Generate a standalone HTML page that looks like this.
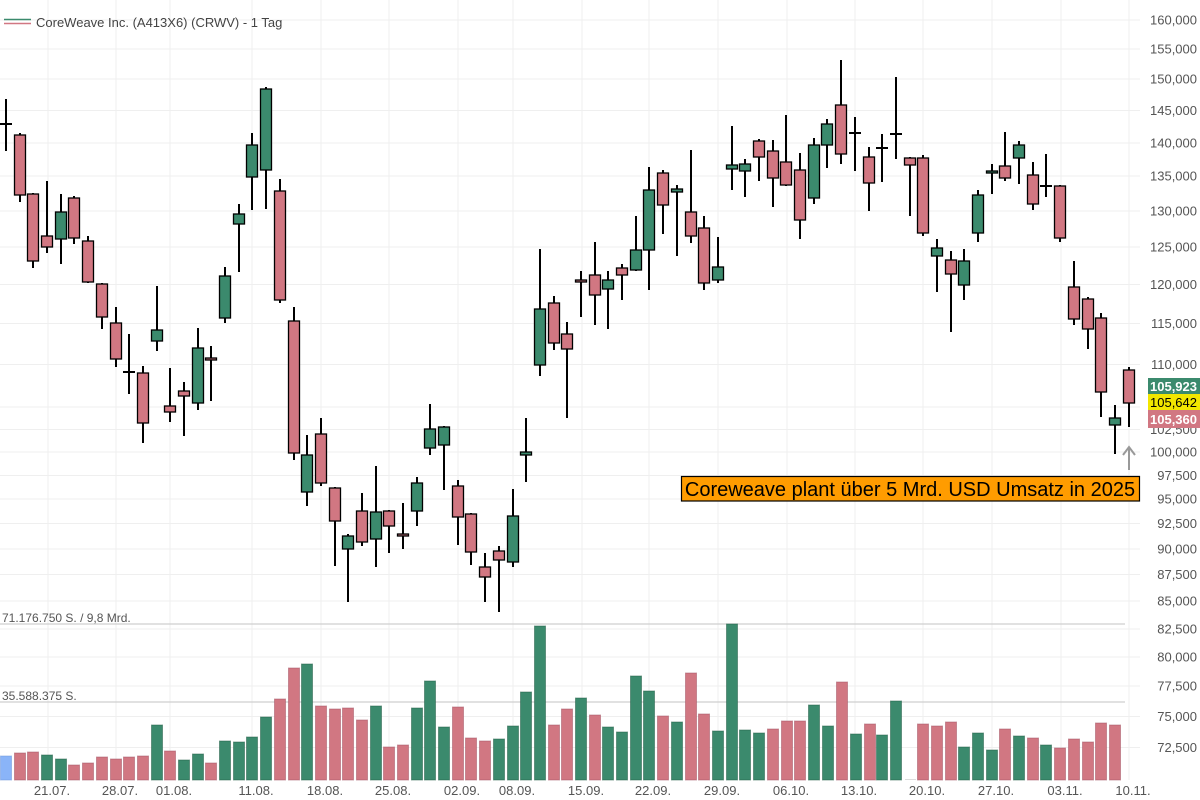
<!DOCTYPE html>
<html><head><meta charset="utf-8"><style>
html,body{margin:0;padding:0;background:#fff;width:1200px;height:800px;overflow:hidden}
svg{display:block;font-family:"Liberation Sans",sans-serif}
</style></head><body>
<svg width="1200" height="800" viewBox="0 0 1200 800" xmlns="http://www.w3.org/2000/svg">
<g stroke="#efefef" stroke-width="1">
<line x1="0" y1="20" x2="1140" y2="20"/><line x1="0" y1="49" x2="1140" y2="49"/><line x1="0" y1="79" x2="1140" y2="79"/><line x1="0" y1="110.5" x2="1140" y2="110.5"/><line x1="0" y1="143" x2="1140" y2="143"/><line x1="0" y1="176" x2="1140" y2="176"/><line x1="0" y1="211" x2="1140" y2="211"/><line x1="0" y1="247" x2="1140" y2="247"/><line x1="0" y1="284.5" x2="1140" y2="284.5"/><line x1="0" y1="323.5" x2="1140" y2="323.5"/><line x1="0" y1="364.5" x2="1140" y2="364.5"/><line x1="0" y1="407" x2="1140" y2="407"/><line x1="0" y1="429.5" x2="1140" y2="429.5"/><line x1="0" y1="452" x2="1140" y2="452"/><line x1="0" y1="475.5" x2="1140" y2="475.5"/><line x1="0" y1="499" x2="1140" y2="499"/><line x1="0" y1="523.5" x2="1140" y2="523.5"/><line x1="0" y1="549" x2="1140" y2="549"/><line x1="0" y1="574.5" x2="1140" y2="574.5"/><line x1="0" y1="601" x2="1140" y2="601"/><line x1="0" y1="629" x2="1140" y2="629"/><line x1="0" y1="657" x2="1140" y2="657"/><line x1="0" y1="686" x2="1140" y2="686"/><line x1="0" y1="716.5" x2="1140" y2="716.5"/><line x1="0" y1="747.5" x2="1140" y2="747.5"/>
<line x1="48" y1="0" x2="48" y2="780"/><line x1="116" y1="0" x2="116" y2="780"/><line x1="170" y1="0" x2="170" y2="780"/><line x1="252" y1="0" x2="252" y2="780"/><line x1="321" y1="0" x2="321" y2="780"/><line x1="389" y1="0" x2="389" y2="780"/><line x1="458" y1="0" x2="458" y2="780"/><line x1="513" y1="0" x2="513" y2="780"/><line x1="582" y1="0" x2="582" y2="780"/><line x1="649" y1="0" x2="649" y2="780"/><line x1="718" y1="0" x2="718" y2="780"/><line x1="787" y1="0" x2="787" y2="780"/><line x1="855" y1="0" x2="855" y2="780"/><line x1="923" y1="0" x2="923" y2="780"/><line x1="992" y1="0" x2="992" y2="780"/><line x1="1061" y1="0" x2="1061" y2="780"/><line x1="1129" y1="0" x2="1129" y2="780"/>
</g>
<g stroke="#cfcfcf" stroke-width="1.2"><line x1="0" y1="624" x2="1125" y2="624"/><line x1="0" y1="702" x2="1125" y2="702"/></g>
<g font-size="12" fill="#555"><text x="2" y="622">71.176.750 S. / 9,8 Mrd.</text><text x="2" y="700">35.588.375 S.</text></g>
<!-- volume -->
<g stroke-width="1" stroke-opacity="0.5">
<rect x="0.5" y="756" width="11" height="24" fill="#8ab4f8" stroke="#6a94d8"/>
<g fill="#d17782" stroke="#a05060">
<rect x="14.5" y="753" width="11" height="27"/><rect x="27.5" y="752" width="11" height="28"/><rect x="68.5" y="765" width="11" height="15"/><rect x="82.5" y="763" width="11" height="17"/><rect x="96.5" y="757" width="11" height="23"/><rect x="110.5" y="759" width="11" height="21"/><rect x="123.5" y="757" width="11" height="23"/><rect x="137.5" y="756" width="11" height="24"/><rect x="164.5" y="751" width="11" height="29"/><rect x="205.5" y="763" width="11" height="17"/><rect x="274.5" y="699" width="11" height="81"/><rect x="288.5" y="668" width="11" height="112"/><rect x="315.5" y="706" width="11" height="74"/><rect x="329.5" y="709" width="11" height="71"/><rect x="342.5" y="708" width="11" height="72"/><rect x="356.5" y="720" width="11" height="60"/><rect x="383.5" y="747" width="11" height="33"/><rect x="397.5" y="745" width="11" height="35"/><rect x="452.5" y="707" width="11" height="73"/><rect x="465.5" y="738" width="11" height="42"/><rect x="479.5" y="741" width="11" height="39"/><rect x="548.5" y="725" width="11" height="55"/><rect x="561.5" y="709" width="11" height="71"/><rect x="589.5" y="715" width="11" height="65"/><rect x="657.5" y="716" width="11" height="64"/><rect x="685.5" y="673" width="11" height="107"/><rect x="698.5" y="714" width="11" height="66"/><rect x="767.5" y="729" width="11" height="51"/><rect x="781.5" y="721" width="11" height="59"/><rect x="794.5" y="721" width="11" height="59"/><rect x="836.5" y="682" width="11" height="98"/><rect x="864.5" y="724" width="11" height="56"/><rect x="917.5" y="724" width="11" height="56"/><rect x="931.5" y="726" width="11" height="54"/><rect x="945.5" y="722" width="11" height="58"/><rect x="999.5" y="729" width="11" height="51"/><rect x="1027.5" y="738" width="11" height="42"/><rect x="1054.5" y="748" width="11" height="32"/><rect x="1068.5" y="739" width="11" height="41"/><rect x="1082.5" y="742" width="11" height="38"/><rect x="1095.5" y="723" width="11" height="57"/><rect x="1109.5" y="725" width="11" height="55"/>
</g>
<g fill="#3b8a6d" stroke="#1f5a44">
<rect x="41.5" y="755" width="11" height="25"/><rect x="55.5" y="759" width="11" height="21"/><rect x="151.5" y="725" width="11" height="55"/><rect x="178.5" y="760" width="11" height="20"/><rect x="192.5" y="754" width="11" height="26"/><rect x="219.5" y="741" width="11" height="39"/><rect x="233.5" y="742" width="11" height="38"/><rect x="246.5" y="737" width="11" height="43"/><rect x="260.5" y="717" width="11" height="63"/><rect x="301.5" y="664" width="11" height="116"/><rect x="370.5" y="706" width="11" height="74"/><rect x="411.5" y="708" width="11" height="72"/><rect x="424.5" y="681" width="11" height="99"/><rect x="438.5" y="727" width="11" height="53"/><rect x="493.5" y="739" width="11" height="41"/><rect x="507.5" y="726" width="11" height="54"/><rect x="520.5" y="692" width="11" height="88"/><rect x="534.5" y="626" width="11" height="154"/><rect x="575.5" y="698" width="11" height="82"/><rect x="602.5" y="727" width="11" height="53"/><rect x="616.5" y="732" width="11" height="48"/><rect x="630.5" y="676" width="11" height="104"/><rect x="643.5" y="691" width="11" height="89"/><rect x="671.5" y="722" width="11" height="58"/><rect x="712.5" y="731" width="11" height="49"/><rect x="726.5" y="624" width="11" height="156"/><rect x="739.5" y="730" width="11" height="50"/><rect x="753.5" y="733" width="11" height="47"/><rect x="808.5" y="705" width="11" height="75"/><rect x="822.5" y="726" width="11" height="54"/><rect x="850.5" y="734" width="11" height="46"/><rect x="876.5" y="735" width="11" height="45"/><rect x="890.5" y="701" width="11" height="79"/><rect x="958.5" y="747" width="11" height="33"/><rect x="972.5" y="733" width="11" height="47"/><rect x="986.5" y="750" width="11" height="30"/><rect x="1013.5" y="736" width="11" height="44"/><rect x="1040.5" y="745" width="11" height="35"/>
</g>
<line x1="905" y1="779.5" x2="916" y2="779.5" stroke="#bbb"/>
</g>
<!-- wicks -->
<g stroke="#000" stroke-width="2">
<line x1="6" y1="99" x2="6" y2="151"/><line x1="20" y1="133" x2="20" y2="202"/><line x1="33" y1="193" x2="33" y2="268"/><line x1="47" y1="181" x2="47" y2="253"/><line x1="61" y1="194" x2="61" y2="264"/><line x1="74" y1="196" x2="74" y2="244"/><line x1="88" y1="236" x2="88" y2="283"/><line x1="102" y1="283" x2="102" y2="329"/><line x1="116" y1="307" x2="116" y2="367"/><line x1="129" y1="334" x2="129" y2="394"/><line x1="143" y1="366" x2="143" y2="443"/><line x1="157" y1="286" x2="157" y2="351"/><line x1="170" y1="368" x2="170" y2="422"/><line x1="184" y1="382" x2="184" y2="436"/><line x1="198" y1="328" x2="198" y2="410"/><line x1="211" y1="346" x2="211" y2="401"/><line x1="225" y1="267" x2="225" y2="323"/><line x1="239" y1="204" x2="239" y2="272"/><line x1="252" y1="133" x2="252" y2="210"/><line x1="266" y1="87" x2="266" y2="209"/><line x1="280" y1="179" x2="280" y2="303"/><line x1="294" y1="307" x2="294" y2="460"/><line x1="307" y1="435" x2="307" y2="506"/><line x1="321" y1="418" x2="321" y2="486"/><line x1="335" y1="487" x2="335" y2="566"/><line x1="348" y1="534" x2="348" y2="602"/><line x1="362" y1="493" x2="362" y2="546"/><line x1="376" y1="466" x2="376" y2="567"/><line x1="389" y1="510" x2="389" y2="553"/><line x1="403" y1="503" x2="403" y2="549"/><line x1="417" y1="477" x2="417" y2="526"/><line x1="430" y1="404" x2="430" y2="455"/><line x1="444" y1="426" x2="444" y2="490"/><line x1="458" y1="480" x2="458" y2="545"/><line x1="471" y1="513" x2="471" y2="565"/><line x1="485" y1="553" x2="485" y2="602"/><line x1="499" y1="546" x2="499" y2="612"/><line x1="513" y1="489" x2="513" y2="567"/><line x1="526" y1="418" x2="526" y2="482"/><line x1="540" y1="249" x2="540" y2="376"/><line x1="554" y1="296" x2="554" y2="350"/><line x1="567" y1="322" x2="567" y2="418"/><line x1="581" y1="271" x2="581" y2="317"/><line x1="595" y1="242" x2="595" y2="325"/><line x1="608" y1="271" x2="608" y2="329"/><line x1="622" y1="264" x2="622" y2="300"/><line x1="636" y1="216" x2="636" y2="271"/><line x1="649" y1="167" x2="649" y2="290"/><line x1="663" y1="170" x2="663" y2="234"/><line x1="677" y1="185" x2="677" y2="256"/><line x1="691" y1="150" x2="691" y2="243"/><line x1="704" y1="216" x2="704" y2="290"/><line x1="718" y1="237" x2="718" y2="283"/><line x1="732" y1="126" x2="732" y2="190"/><line x1="745" y1="159" x2="745" y2="197"/><line x1="759" y1="139" x2="759" y2="181"/><line x1="773" y1="140" x2="773" y2="207"/><line x1="786" y1="115" x2="786" y2="186"/><line x1="800" y1="153" x2="800" y2="239"/><line x1="814" y1="138" x2="814" y2="204"/><line x1="827" y1="119" x2="827" y2="168"/><line x1="841" y1="60" x2="841" y2="164"/><line x1="855" y1="117" x2="855" y2="171"/><line x1="869" y1="147" x2="869" y2="211"/><line x1="882" y1="134" x2="882" y2="182"/><line x1="896" y1="77" x2="896" y2="159"/><line x1="910" y1="157" x2="910" y2="216"/><line x1="923" y1="155" x2="923" y2="236"/><line x1="937" y1="239" x2="937" y2="292"/><line x1="951" y1="251" x2="951" y2="332"/><line x1="964" y1="249" x2="964" y2="300"/><line x1="978" y1="190" x2="978" y2="242"/><line x1="992" y1="164" x2="992" y2="194"/><line x1="1005" y1="132" x2="1005" y2="181"/><line x1="1019" y1="141" x2="1019" y2="184"/><line x1="1033" y1="162" x2="1033" y2="210"/><line x1="1046" y1="154" x2="1046" y2="197"/><line x1="1060" y1="185" x2="1060" y2="242"/><line x1="1074" y1="261" x2="1074" y2="325"/><line x1="1088" y1="297" x2="1088" y2="349"/><line x1="1101" y1="313" x2="1101" y2="417"/><line x1="1115" y1="405" x2="1115" y2="454"/><line x1="1129" y1="367" x2="1129" y2="427"/>
<line x1="0" y1="124" x2="12" y2="124"/><line x1="123" y1="372" x2="135" y2="372"/><line x1="849" y1="133" x2="861" y2="133"/><line x1="876" y1="148" x2="888" y2="148"/><line x1="890" y1="134" x2="902" y2="134"/><line x1="1040" y1="186" x2="1052" y2="186"/>
</g>
<!-- bodies -->
<g stroke="#000" stroke-width="1.3" fill="#d17782">
<rect x="14.5" y="135" width="11" height="60"/><rect x="27.5" y="194" width="11" height="67"/><rect x="41.5" y="236" width="11" height="11"/><rect x="68.5" y="198" width="11" height="40"/><rect x="82.5" y="241" width="11" height="41"/><rect x="96.5" y="284" width="11" height="33"/><rect x="110.5" y="323" width="11" height="36"/><rect x="137.5" y="373" width="11" height="50"/><rect x="164.5" y="406" width="11" height="6"/><rect x="178.5" y="391" width="11" height="5"/><rect x="205.5" y="358" width="11" height="2"/><rect x="274.5" y="191" width="11" height="109"/><rect x="288.5" y="321" width="11" height="132"/><rect x="315.5" y="434" width="11" height="49"/><rect x="329.5" y="488" width="11" height="33"/><rect x="356.5" y="511" width="11" height="31"/><rect x="383.5" y="511" width="11" height="15"/><rect x="397.5" y="534" width="11" height="2"/><rect x="452.5" y="486" width="11" height="31"/><rect x="465.5" y="514" width="11" height="38"/><rect x="479.5" y="567" width="11" height="10"/><rect x="493.5" y="551" width="11" height="9"/><rect x="548.5" y="303" width="11" height="40"/><rect x="561.5" y="334" width="11" height="15"/><rect x="575.5" y="280" width="11" height="2"/><rect x="589.5" y="275" width="11" height="20"/><rect x="616.5" y="268" width="11" height="7"/><rect x="657.5" y="173" width="11" height="32"/><rect x="685.5" y="212" width="11" height="24"/><rect x="698.5" y="228" width="11" height="55"/><rect x="753.5" y="141" width="11" height="16"/><rect x="767.5" y="151" width="11" height="27"/><rect x="780.5" y="162" width="11" height="23"/><rect x="794.5" y="170" width="11" height="50"/><rect x="835.5" y="105" width="11" height="49"/><rect x="863.5" y="157" width="11" height="26"/><rect x="904.5" y="158" width="11" height="7"/><rect x="917.5" y="158" width="11" height="75"/><rect x="945.5" y="260" width="11" height="14"/><rect x="999.5" y="166" width="11" height="12"/><rect x="1027.5" y="175" width="11" height="29"/><rect x="1054.5" y="186" width="11" height="52"/><rect x="1068.5" y="287" width="11" height="32"/><rect x="1082.5" y="299" width="11" height="30"/><rect x="1095.5" y="318" width="11" height="74"/><rect x="1123.5" y="370" width="11" height="33"/>
</g>
<g stroke="#000" stroke-width="1.3" fill="#3b8a6d">
<rect x="55.5" y="212" width="11" height="27"/><rect x="151.5" y="330" width="11" height="11"/><rect x="192.5" y="348" width="11" height="55"/><rect x="219.5" y="276" width="11" height="42"/><rect x="233.5" y="214" width="11" height="10"/><rect x="246.5" y="145" width="11" height="32"/><rect x="260.5" y="89" width="11" height="81"/><rect x="301.5" y="455" width="11" height="37"/><rect x="342.5" y="536" width="11" height="13"/><rect x="370.5" y="512" width="11" height="27"/><rect x="411.5" y="483" width="11" height="28"/><rect x="424.5" y="429" width="11" height="19"/><rect x="438.5" y="427" width="11" height="18"/><rect x="507.5" y="516" width="11" height="46"/><rect x="520.5" y="452" width="11" height="3"/><rect x="534.5" y="309" width="11" height="56"/><rect x="602.5" y="280" width="11" height="9"/><rect x="630.5" y="250" width="11" height="20"/><rect x="643.5" y="190" width="11" height="60"/><rect x="671.5" y="189" width="11" height="3"/><rect x="712.5" y="267" width="11" height="13"/><rect x="726.5" y="165" width="11" height="4"/><rect x="739.5" y="164" width="11" height="7"/><rect x="808.5" y="145" width="11" height="53"/><rect x="821.5" y="124" width="11" height="21"/><rect x="931.5" y="248" width="11" height="8"/><rect x="958.5" y="261" width="11" height="24"/><rect x="972.5" y="195" width="11" height="38"/><rect x="986.5" y="171" width="11" height="2"/><rect x="1013.5" y="145" width="11" height="13"/><rect x="1109.5" y="418" width="11" height="7"/>
</g>
<!-- annotation -->
<g stroke="#999" stroke-width="2" fill="none"><line x1="1129" y1="470" x2="1129" y2="448"/><polyline points="1123,455 1129,447 1135,455"/></g>
<rect x="681.5" y="476.5" width="458" height="24.5" fill="#ff9c00" stroke="#000" stroke-width="1.2"/>
<text x="910" y="496" font-size="20" fill="#000" text-anchor="middle">Coreweave plant über 5 Mrd. USD Umsatz in 2025</text>
<!-- price axis -->
<g font-size="13" fill="#555" text-anchor="end">
<text x="1197" y="24.5">160,000</text><text x="1197" y="53.5">155,000</text><text x="1197" y="83.5">150,000</text><text x="1197" y="115">145,000</text><text x="1197" y="147.5">140,000</text><text x="1197" y="180.5">135,000</text><text x="1197" y="215.5">130,000</text><text x="1197" y="251.5">125,000</text><text x="1197" y="289">120,000</text><text x="1197" y="328">115,000</text><text x="1197" y="369">110,000</text><text x="1197" y="434">102,500</text><text x="1197" y="456.5">100,000</text><text x="1197" y="480">97,500</text><text x="1197" y="503.5">95,000</text><text x="1197" y="528">92,500</text><text x="1197" y="553.5">90,000</text><text x="1197" y="579">87,500</text><text x="1197" y="605.5">85,000</text><text x="1197" y="633.5">82,500</text><text x="1197" y="661.5">80,000</text><text x="1197" y="690.5">77,500</text><text x="1197" y="721">75,000</text><text x="1197" y="752">72,500</text>
</g>
<rect x="1148" y="378" width="52" height="16" fill="#3b8a6d"/><text x="1197" y="391" font-size="13" font-weight="bold" fill="#fff" text-anchor="end">105,923</text>
<rect x="1148" y="394" width="52" height="16" fill="#f2e600"/><text x="1197" y="407" font-size="13" fill="#000" text-anchor="end">105,642</text>
<rect x="1148" y="410" width="52" height="18" fill="#d17782"/><text x="1197" y="424" font-size="13" font-weight="bold" fill="#fff" text-anchor="end">105,360</text>
<!-- date axis -->
<g font-size="13" fill="#555" text-anchor="middle">
<text x="52" y="795">21.07.</text><text x="120" y="795">28.07.</text><text x="174" y="795">01.08.</text><text x="256" y="795">11.08.</text><text x="325" y="795">18.08.</text><text x="393" y="795">25.08.</text><text x="462" y="795">02.09.</text><text x="517" y="795">08.09.</text><text x="586" y="795">15.09.</text><text x="653" y="795">22.09.</text><text x="722" y="795">29.09.</text><text x="791" y="795">06.10.</text><text x="859" y="795">13.10.</text><text x="927" y="795">20.10.</text><text x="996" y="795">27.10.</text><text x="1065" y="795">03.11.</text><text x="1133" y="795">10.11.</text>
</g>
<!-- legend -->
<line x1="4" y1="19.5" x2="31" y2="19.5" stroke="#3b8a6d" stroke-width="1.5"/>
<line x1="4" y1="23.5" x2="31" y2="23.5" stroke="#d17782" stroke-width="1.5"/>
<text x="36" y="27" font-size="13" fill="#444">CoreWeave Inc. (A413X6) (CRWV) - 1 Tag</text>
</svg>
</body></html>
